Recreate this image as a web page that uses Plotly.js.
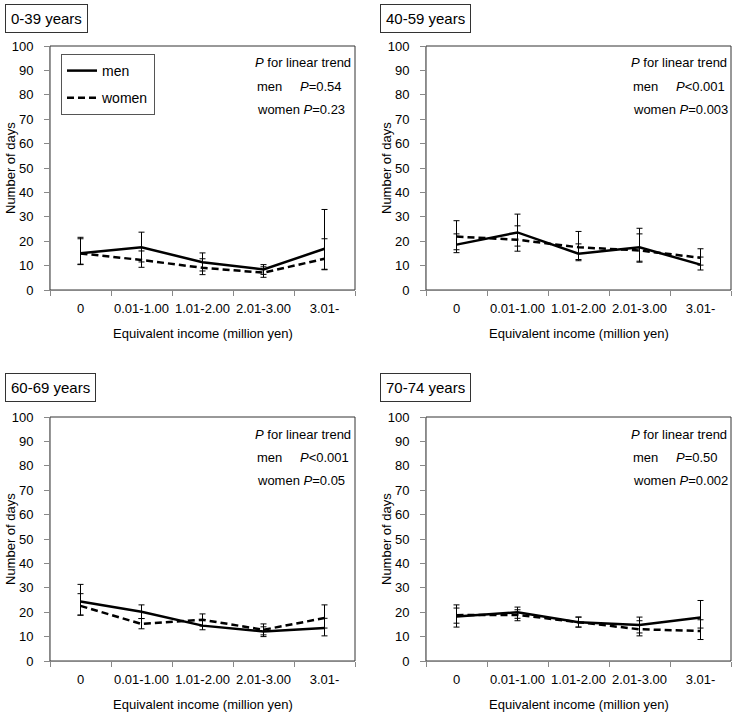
<!DOCTYPE html>
<html>
<head>
<meta charset="utf-8">
<script src="https://cdn.plot.ly/plotly-3.0.1.min.js"></script>
<style>html,body{margin:0;padding:0;background:#fff;}#chart{width:733px;height:715px;}</style>
</head>
<body>
<div id="chart"></div>
<script>
// ---- data ----
const categories = ['0', '0.01-1.00', '1.01-2.00', '2.01-3.00', '3.01-'];
const panelTitles = ['0-39 years', '40-59 years', '60-69 years', '70-74 years'];

const men_0_39 = [15.1, 17.5, 11.4, 8.4, 16.9];
const menUpper_0_39 = [21.6, 23.7, 15.2, 10.4, 33.0];
const menLower_0_39 = [10.4, 11.5, 7.8, 6.4, 8.3];
const women_0_39 = [15.0, 12.3, 9.1, 7.1, 12.8];
const womenUpper_0_39 = [21.0, 16.0, 12.8, 9.5, 21.0];
const womenLower_0_39 = [10.6, 9.3, 6.3, 5.2, 8.5];

const men_40_59 = [18.6, 23.6, 14.9, 17.5, 10.4];
const menUpper_40_59 = [23.0, 31.1, 18.9, 25.3, 13.5];
const menLower_40_59 = [15.3, 18.0, 12.0, 11.4, 8.2];
const women_40_59 = [21.9, 20.6, 17.5, 16.2, 13.2];
const womenUpper_40_59 = [28.4, 26.3, 24.0, 23.0, 16.9];
const womenLower_40_59 = [16.5, 15.9, 12.5, 11.8, 10.2];

const men_60_69 = [24.4, 20.2, 14.5, 12.1, 13.5];
const menUpper_60_69 = [31.4, 23.0, 17.0, 14.0, 17.5];
const menLower_60_69 = [18.8, 17.4, 12.8, 10.0, 10.3];
const women_60_69 = [22.6, 15.2, 16.9, 12.8, 17.6];
const womenUpper_60_69 = [27.6, 17.4, 19.3, 15.2, 23.0];
const womenLower_60_69 = [18.8, 13.2, 14.3, 10.7, 13.5];

const men_70_74 = [18.2, 20.0, 15.9, 14.8, 17.8];
const menUpper_70_74 = [23.0, 22.1, 18.0, 18.0, 24.8];
const menLower_70_74 = [13.9, 17.5, 13.9, 11.5, 13.5];
const women_70_74 = [18.8, 18.9, 15.9, 13.0, 12.3];
const womenUpper_70_74 = [21.7, 21.0, 18.0, 16.5, 16.9];
const womenLower_70_74 = [15.5, 16.5, 13.9, 10.3, 8.8];

const pMen = ['=0.54', '&lt;0.001', '&lt;0.001', '=0.50'];
const pWomen = ['=0.23', '=0.003', '=0.05', '=0.002'];

// ---- layout helpers ----
const W = 733, H = 715;
const px = x => x / W;
const py = y => 1 - y / H;
const FONT = 'Liberation Sans, Arial, sans-serif';

const panels = [
  {L: 50, R: 355, T: 46, B: 290, men: men_0_39, mu: menUpper_0_39, ml: menLower_0_39, women: women_0_39, wu: womenUpper_0_39, wl: womenLower_0_39, boxX: 5, boxY: 4, pmR: 344},
  {L: 426, R: 731, T: 46, B: 290, men: men_40_59, mu: menUpper_40_59, ml: menLower_40_59, women: women_40_59, wu: womenUpper_40_59, wl: womenLower_40_59, boxX: 380, boxY: 4, pmR: 727},
  {L: 50, R: 355, T: 417, B: 661, men: men_60_69, mu: menUpper_60_69, ml: menLower_60_69, women: women_60_69, wu: womenUpper_60_69, wl: womenLower_60_69, boxX: 5, boxY: 373, pmR: 351},
  {L: 426, R: 731, T: 417, B: 661, men: men_70_74, mu: menUpper_70_74, ml: menLower_70_74, women: women_70_74, wu: womenUpper_70_74, wl: womenLower_70_74, boxX: 380, boxY: 373, pmR: 720}
];

const traces = [];
const layout = {
  width: W, height: H,
  margin: {l: 0, r: 0, t: 0, b: 0},
  paper_bgcolor: '#fff', plot_bgcolor: '#fff',
  font: {family: FONT, size: 13, color: '#000'},
  showlegend: true,
  legend: {
    x: px(61), y: py(54), xanchor: 'left', yanchor: 'top',
    bordercolor: '#555', borderwidth: 1, bgcolor: '#fff',
    font: {family: FONT, size: 14, color: '#000'},
    traceorder: 'grouped', tracegroupgap: 6, itemwidth: 30
  },
  annotations: [],
  shapes: []
};

panels.forEach((p, i) => {
  const n = i === 0 ? '' : String(i + 1);
  const xa = 'x' + n, ya = 'y' + n;
  const errs = (vals, up, lo) => ({
    type: 'data', symmetric: false,
    array: up.map((u, k) => u - vals[k]),
    arrayminus: vals.map((v, k) => v - lo[k]),
    color: '#000', thickness: 1, width: 3
  });
  traces.push({
    type: 'scatter', mode: 'lines', name: 'men', x: categories, y: p.men,
    xaxis: xa, yaxis: ya, line: {color: '#000', width: 2.5},
    error_y: errs(p.men, p.mu, p.ml),
    showlegend: i === 0, legendgroup: 'm'
  });
  traces.push({
    type: 'scatter', mode: 'lines', name: 'women', x: categories, y: p.women,
    xaxis: xa, yaxis: ya, line: {color: '#000', width: 2.5, dash: '7px,4px'},
    error_y: errs(p.women, p.wu, p.wl),
    showlegend: i === 0, legendgroup: 'w'
  });

  layout['xaxis' + n] = {
    domain: [px(p.L), px(p.R)], anchor: ya, type: 'category',
    range: [-0.5, 4.5], tickson: 'boundaries', ticks: 'outside', ticklen: 5,
    tickcolor: '#888', showline: true, linecolor: '#888', linewidth: 1,
    showgrid: false, zeroline: false, ticklabelstandoff: 6, tickangle: 0,
    tickfont: {family: FONT, size: 13, color: '#000'}, fixedrange: true
  };
  layout['yaxis' + n] = {
    domain: [py(p.B), py(p.T)], anchor: xa,
    range: [0, 100], dtick: 10, tick0: 0, ticks: 'outside', ticklen: 5,
    tickcolor: '#888', showline: true, linecolor: '#888', linewidth: 1,
    showgrid: false, zeroline: false, ticklabelstandoff: 8,
    tickfont: {family: FONT, size: 13, color: '#000'}, fixedrange: true
  };

  // plot-area border (top / right)
  layout.shapes.push({type: 'rect', xref: xa + ' domain', yref: ya + ' domain',
    x0: 0, x1: 1, y0: 0, y1: 1, line: {color: '#333', width: 1}, layer: 'below'});

  // panel title box
  layout.annotations.push({
    text: panelTitles[i], xref: 'paper', yref: 'paper', x: px(p.boxX), y: py(p.boxY),
    xanchor: 'left', yanchor: 'top', showarrow: false,
    font: {family: FONT, size: 15, color: '#000'},
    bordercolor: '#333', borderwidth: 1, borderpad: 5, bgcolor: '#fff'
  });
  // axis titles
  layout.annotations.push({
    text: 'Number of days', xref: 'paper', yref: 'paper',
    x: px(p.L - 40), y: py((p.T + p.B) / 2), textangle: -90,
    xanchor: 'center', yanchor: 'middle', showarrow: false,
    font: {family: FONT, size: 13, color: '#000'}
  });
  layout.annotations.push({
    text: 'Equivalent income (million yen)', xref: 'paper', yref: 'paper',
    x: px((p.L + p.R) / 2), y: py(p.B + 43),
    xanchor: 'center', yanchor: 'middle', showarrow: false,
    font: {family: FONT, size: 13, color: '#000'}
  });
  // P for trend text
  const tf = {family: FONT, size: 13, color: '#000'};
  layout.annotations.push({text: '<i>P</i> for linear trend', xref: 'paper', yref: 'paper',
    x: px(p.R - 2), y: py(p.T + 17), xanchor: 'right', yanchor: 'middle', showarrow: false, font: tf});
  layout.annotations.push({text: 'men', xref: 'paper', yref: 'paper',
    x: px(p.R - 100), y: py(p.T + 40), xanchor: 'left', yanchor: 'middle', showarrow: false, font: tf});
  layout.annotations.push({text: '<i>P</i>' + pMen[i], xref: 'paper', yref: 'paper',
    x: px(p.pmR), y: py(p.T + 40), xanchor: 'right', yanchor: 'middle', showarrow: false, font: tf});
  layout.annotations.push({text: 'women <i>P</i>' + pWomen[i], xref: 'paper', yref: 'paper',
    x: px(p.R - 100), y: py(p.T + 63), xanchor: 'left', yanchor: 'middle', showarrow: false, font: tf});
});

Plotly.newPlot('chart', traces, layout, {displayModeBar: false, staticPlot: true});
</script>
</body>
</html>
